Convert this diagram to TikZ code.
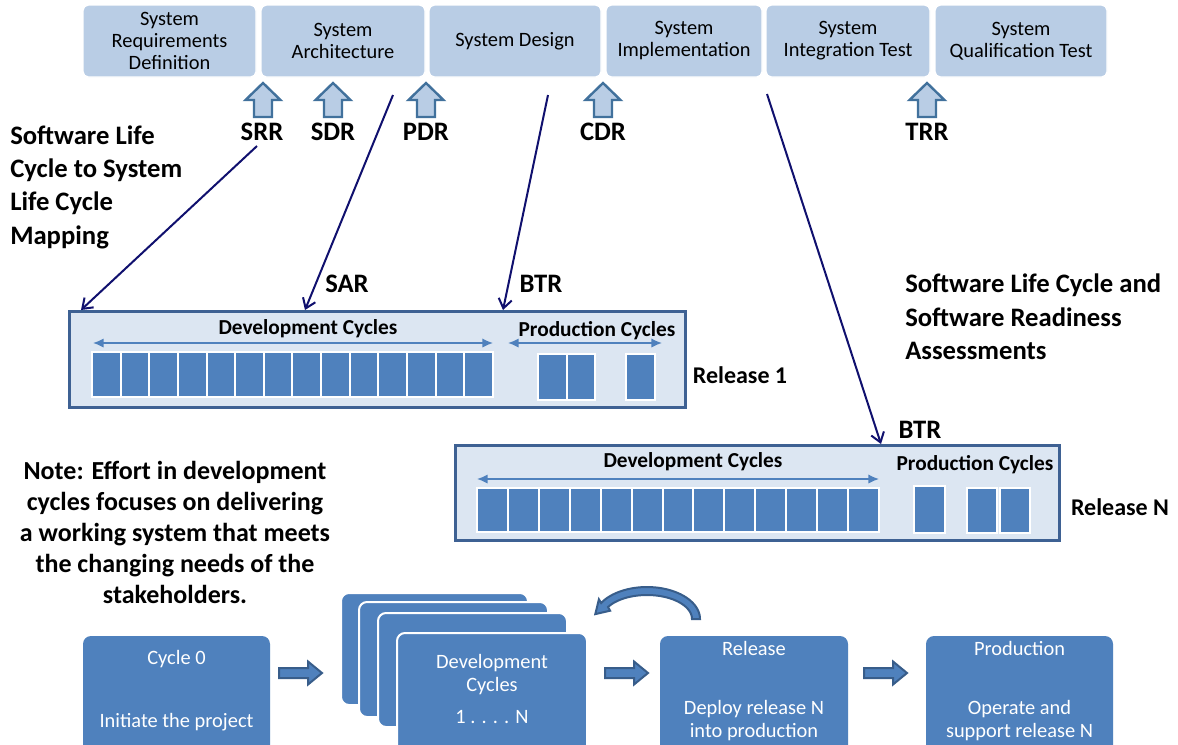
\documentclass[tikz,border=0pt]{standalone}
\usepackage{fontspec}
\setmainfont{Carlito}
\usetikzlibrary{arrows.meta}
\definecolor{topfill}{HTML}{B9CDE5}
\definecolor{paleblue}{HTML}{DCE6F2}
\definecolor{midblue}{HTML}{4F81BD}
\definecolor{edgeblue}{HTML}{41719C}
\definecolor{darkedge}{HTML}{385D8A}
\definecolor{relborder}{HTML}{3E6193}
\definecolor{navy}{HTML}{10106E}
\tikzset{
  phase/.style={draw=white, line width=1pt, fill=topfill, rounded corners=4pt,
    minimum height=72*0.75pt, inner sep=0pt, align=center,
    font=\fontsize{15.3}{16.5}\selectfont},
  bigbold/.style={inner sep=0pt, font=\fontsize{20}{25}\selectfont\bfseries},
  midbold/.style={inner sep=0pt, font=\fontsize{16}{19}\selectfont\bfseries},
  rellabel/.style={inner sep=0pt, font=\fontsize{18}{21}\selectfont\bfseries},
  mapline/.style={draw=navy, line width=1.5pt, -{Straight Barb[length=7pt,width=10pt]}},
  relbox/.style={draw=relborder, line width=2.25pt, fill=paleblue, inner sep=0pt},
  cyc/.style={draw=white, line width=1.5pt, fill=midblue, inner sep=0pt},
  spanline/.style={draw=midblue, line width=1.1pt,
    {Latex[length=8pt,width=7pt]}-{Latex[length=8pt,width=7pt]}},
  card/.style={fill=midblue, rounded corners=6pt, inner sep=0pt},
  stackcard/.style={card, draw=white, line width=1.5pt},
  cardtext/.style={text=white, inner sep=0pt, align=center,
    font=\fontsize{15.3}{17.25}\selectfont},
  reviewarrow/.pic={
    \filldraw[fill=topfill, draw=edgeblue, line width=1.8pt, line join=miter]
      (-9,34) -- (9,34) -- (9,17) -- (17.5,17) -- (0,0) -- (-17.5,17) -- (-9,17) -- cycle;},
  steparrow/.pic={
    \filldraw[fill=midblue, draw=darkedge, line width=1.5pt, line join=miter]
      (0,-5) -- (29,-5) -- (29,-11.5) -- (43,0) -- (29,11.5) -- (29,5) -- (0,5) -- cycle;},
}
\begin{document}
\begin{tikzpicture}[x=0.75pt,y=-0.75pt]
\clip (0,0) rectangle (1178,744);
\fill[white] (0,0) rectangle (1178,744);

% system life cycle phases
\node[phase, minimum width=173*0.75pt] (sreq) at (169.5,41) {System\\Requirements\\Definition};
\node[phase, minimum width=164*0.75pt] (sarch) at (343,41) {System\\Architecture};
\node[phase, minimum width=172*0.75pt] (sdes) at (515,41) {System Design};
\node[phase, minimum width=156*0.75pt] (simp) at (684,41) {System\\Implementation};
\node[phase, minimum width=164*0.75pt] (sint) at (848,41) {System\\Integration Test};
\node[phase, minimum width=172*0.75pt] (squal) at (1021,41) {System\\Qualification Test};

% system reviews
\pic at (263,83) {reviewarrow};
\pic at (333,83) {reviewarrow};
\pic at (426,83) {reviewarrow};
\pic at (603,83) {reviewarrow};
\pic at (927,83) {reviewarrow};
\node[bigbold] (srr) at (262,132) {SRR};
\node[bigbold] (sdr) at (333,132) {SDR};
\node[bigbold] (pdr) at (426,132) {PDR};
\node[bigbold] (cdr) at (603,132) {CDR};
\node[bigbold] (trr) at (927,132) {TRR};

% headings and note
\node[bigbold, anchor=west, align=left] (maptitle) at (10,187) {Software Life\\Cycle to System\\Life Cycle\\Mapping};
\node[bigbold, anchor=west, align=left] (readytitle) at (905,317) {Software Life Cycle and\\Software Readiness\\Assessments};
\node[bigbold, align=center, font=\fontsize{19.5}{23.25}\selectfont\bfseries] (note) at (175,532)
  {Note: Effort in development\\cycles focuses on delivering\\a working system that meets\\the changing needs of the\\stakeholders.};

% release 1
\node[relbox, minimum width=616*0.75pt, minimum height=96*0.75pt] (rel1) at (377,359) {};
\node[midbold] (rel1dev) at (308,329) {Development Cycles};
\node[midbold] (rel1prod) at (597,331) {Production Cycles};
\coordinate (r1a) at (93,343);
\coordinate (r1b) at (493,343);
\coordinate (r1c) at (508,343);
\coordinate (r1d) at (662,343);
\draw[spanline] (r1a) -- (r1b);
\draw[spanline] (r1c) -- (r1d);
\foreach \i in {1,...,14}
  \node[cyc, minimum width=28.64*0.75pt, minimum height=45*0.75pt] (ra\i) at ({92+28.64*(\i-0.5)},374.5) {};
\node[cyc, minimum width=29*0.75pt, minimum height=46*0.75pt] (rp1) at (552.5,376.5) {};
\node[cyc, minimum width=28*0.75pt, minimum height=46*0.75pt] (rp2) at (581,376.5) {};
\node[cyc, minimum width=29*0.75pt, minimum height=46*0.75pt] (rp3) at (640,376.5) {};
\node[rellabel] (rel1lab) at (740,375) {Release 1};

% release N
\node[relbox, minimum width=604*0.75pt, minimum height=95*0.75pt] (reln) at (757,492.5) {};
\node[midbold] (relndev) at (693,462) {Development Cycles};
\node[midbold] (relnprod) at (975,465) {Production Cycles};
\coordinate (rna) at (477,479);
\coordinate (rnb) at (879,479);
\draw[spanline] (rna) -- (rnb);
\foreach \i in {1,...,13}
  \node[cyc, minimum width=30.92*0.75pt, minimum height=44*0.75pt] (na\i) at ({477+30.92*(\i-0.5)},509.5) {};
\node[cyc, minimum width=31*0.75pt, minimum height=47*0.75pt] (np1) at (929,509) {};
\node[cyc, minimum width=30*0.75pt, minimum height=45*0.75pt] (np2) at (982,510) {};
\node[cyc, minimum width=30*0.75pt, minimum height=45*0.75pt] (np3) at (1015,510) {};
\node[rellabel] (relnlab) at (1120,507) {Release N};

% mapping of software milestones onto the system phases
\coordinate (m1s) at (257,146);
\coordinate (m1e) at (81,310);
\coordinate (m2s) at (393,95);
\coordinate (m2e) at (305,310);
\coordinate (m3s) at (548,95);
\coordinate (m3e) at (503,310);
\coordinate (m4s) at (767,94);
\coordinate (m4e) at (881,444);
\draw[mapline] (m1s) -- (m1e);
\draw[mapline] (m2s) -- (m2e);
\draw[mapline] (m3s) -- (m3e);
\draw[mapline] (m4s) -- (m4e);
\node[bigbold] (sar) at (347,284) {SAR};
\node[bigbold] (btr1) at (541,284) {BTR};
\node[bigbold] (btrn) at (920,430) {BTR};

% cycle flow
\node[card, minimum width=187*0.75pt, minimum height=124*0.75pt] (cyc0) at (176.5,698) {};
\node[cardtext] (cyc0a) at (176.5,659) {Cycle 0};
\node[cardtext] (cyc0b) at (176.5,722) {Initiate the project};

\node[stackcard, minimum width=187*0.75pt, minimum height=112*0.75pt] (dev1) at (434.5,649) {};
\node[stackcard, minimum width=189*0.75pt, minimum height=115*0.75pt] (dev2) at (453.5,659.5) {};
\node[stackcard, minimum width=189*0.75pt, minimum height=114*0.75pt] (dev3) at (472.5,670) {};
\node[stackcard, minimum width=190*0.75pt, minimum height=127*0.75pt] (dev4) at (492,696.5) {};
\node[cardtext] (deva) at (492,674.5) {Development\\Cycles};
\node[cardtext] (devb) at (492,717) {1 . . . . N};

\node[card, minimum width=188*0.75pt, minimum height=124*0.75pt] (relc) at (754,698) {};
\node[cardtext] (relca) at (754,648) {Release};
\node[cardtext] (relcb) at (754,721) {Deploy release N\\into production};

\node[card, minimum width=187*0.75pt, minimum height=124*0.75pt] (prodc) at (1019.5,698) {};
\node[cardtext] (prodca) at (1019.5,648) {Production};
\node[cardtext] (prodcb) at (1019.5,721) {Operate and\\support release N};

\pic at (279,673) {steparrow};
\pic at (605,673) {steparrow};
\pic at (864,673) {steparrow};

% repeat-cycle arrow over the development cards
\filldraw[fill=midblue, draw=darkedge, line width=1.5pt, line join=miter]
  plot[domain=0:-150, samples=40] ({647+53*cos(\x)}, {619+32*sin(\x)})
  -- (598.9,599.3) -- (595.3,614.1) -- (610.1,610.7)
  -- plot[domain=-150:0, samples=40] ({647+45*cos(\x)}, {619+24*sin(\x)})
  -- cycle;
\end{tikzpicture}
\end{document}
